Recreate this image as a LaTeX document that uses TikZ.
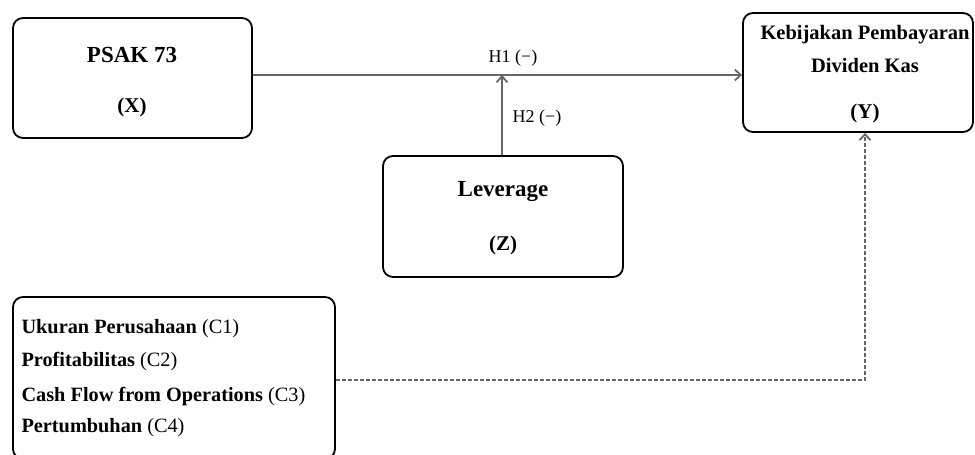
\documentclass[tikz,border=0pt]{standalone}
\usepackage{fontspec}
\setmainfont{Liberation Serif}
\usetikzlibrary{arrows.meta}

\tikzset{
  varbox/.style={draw=black, line width=1.8pt, rounded corners=10pt, inner sep=0pt},
  title/.style={font=\fontsize{23}{26}\selectfont\bfseries},
  ytitle/.style={font=\fontsize{20.5}{24}\selectfont\bfseries},
  letter/.style={font=\fontsize{21}{24}\selectfont\bfseries},
  item/.style={anchor=west, font=\fontsize{20.3}{23}\selectfont},
  hyp/.style={draw=black!60, line width=1.8pt, -{Straight Barb[length=6pt,width=11pt]}},
  ctrl/.style={hyp, dash pattern=on 4pt off 2pt},
  hyplabel/.style={font=\fontsize{18}{21}\selectfont}
}

\begin{document}
\begin{tikzpicture}[x=1pt, y=-1pt]
\useasboundingbox (0,0) rectangle (975,455);
% boxes
\node [varbox, minimum width=239pt, minimum height=120pt] (x) at (132.5,78) {};
\node [varbox, minimum width=230pt, minimum height=119pt] (y) at (858,72.5) {};
\node [varbox, minimum width=240pt, minimum height=121pt] (z) at (503,216.5) {};
\node [varbox, minimum width=322pt, minimum height=162pt] (c) at (174,378) {};
% texts
\node [title] (xt) at (132,55) {PSAK 73};
\node [letter] (xl) at (132,107) {(X)};
\node [ytitle] (yt1) at (865,35) {Kebijakan Pembayaran};
\node [ytitle] (yt2) at (865,65) {Dividen Kas};
\node [letter] (yl) at (865,113) {(Y)};
\node [title] (zt) at (503,192) {Leverage};
\node [letter] (zl) at (503,245) {(Z)};
\node [item] (c1) at (18,329) {\textbf{Ukuran Perusahaan} (C1)};
\node [item] (c2) at (18,362) {\textbf{Profitabilitas} (C2)};
\node [item] (c3) at (18,397) {\textbf{Cash Flow from Operations} (C3)};
\node [item] (c4) at (18,428) {\textbf{Pertumbuhan} (C4)};
% connectors
\coordinate (j) at (502,75);
\coordinate (k) at (865,380);
\draw [hyp] (x.east |- j) -- (j -| y.west);
\draw [hyp] (z.north -| j) -- (j);
\draw [ctrl] (c.east |- k) -- (k) -- (k |- y.south);
\node [hyplabel] (h1) at (513,58) {H1 (−)};
\node [hyplabel] (h2) at (537,118) {H2 (−)};
\end{tikzpicture}
\end{document}
